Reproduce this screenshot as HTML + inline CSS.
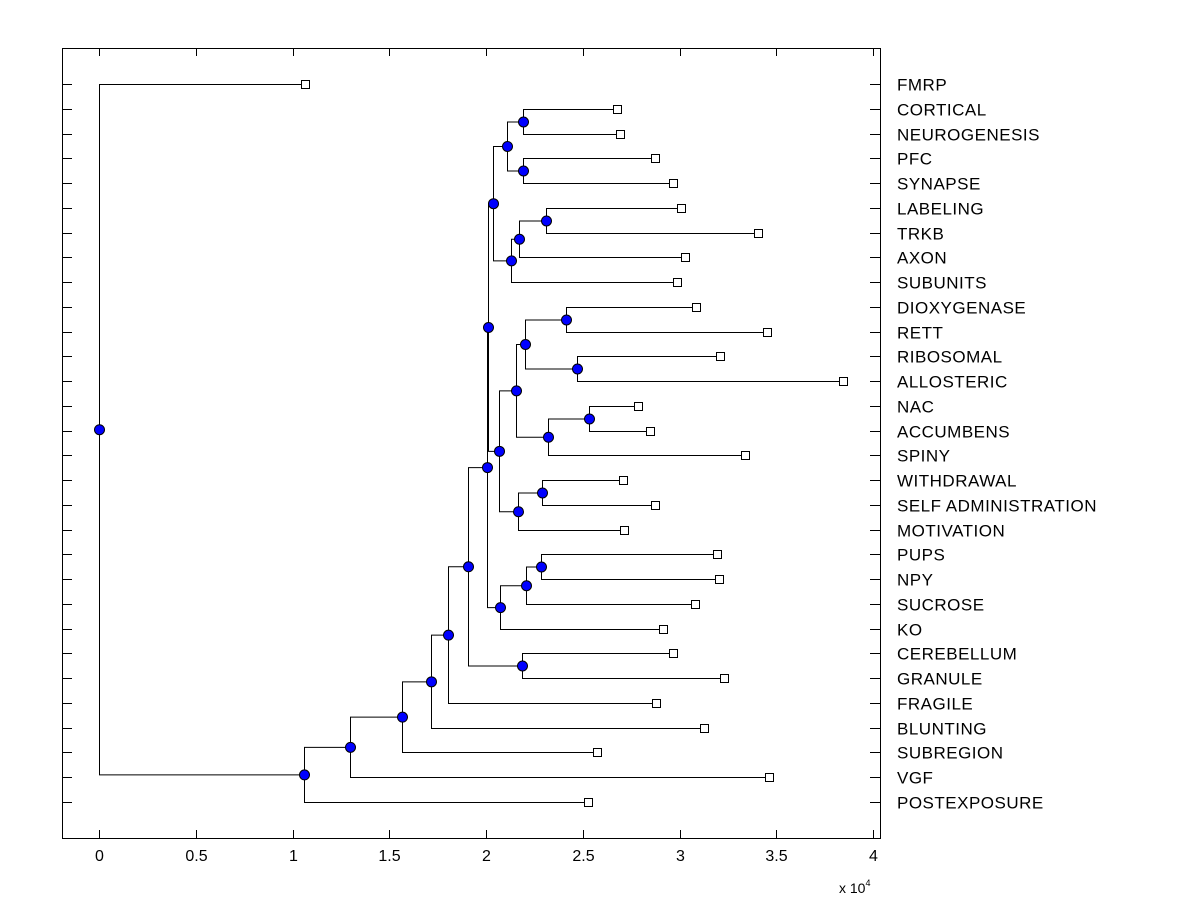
<!DOCTYPE html>
<html><head><meta charset="utf-8"><style>
body{margin:0;background:#fff;}
svg{display:block;font-family:"Liberation Sans",Arial,sans-serif;}
</style></head><body>
<svg id="chart" width="1200" height="900" viewBox="0 0 1200 900" xmlns="http://www.w3.org/2000/svg"></svg>
<script>
const leafLabels=["FMRP","CORTICAL","NEUROGENESIS","PFC","SYNAPSE","LABELING","TRKB","AXON","SUBUNITS","DIOXYGENASE","RETT","RIBOSOMAL","ALLOSTERIC","NAC","ACCUMBENS","SPINY","WITHDRAWAL","SELF ADMINISTRATION","MOTIVATION","PUPS","NPY","SUCROSE","KO","CEREBELLUM","GRANULE","FRAGILE","BLUNTING","SUBREGION","VGF","POSTEXPOSURE"];
const leafValues=[1.065,2.677,2.69,2.873,2.966,3.008,3.406,3.028,2.987,3.085,3.452,3.209,3.845,2.786,2.848,3.339,2.708,2.873,2.713,3.194,3.204,3.080,2.915,2.966,3.23,2.879,3.127,2.574,3.463,2.527];
const nodeNames=["A","B","C","D","E","F","G","H","I","J","K","L","M","N","O","P","Q","R","S","T","U","V","W","X","Y","Z","AA","BB","ROOT"];
const nodeValues=[2.191,2.191,2.109,2.310,2.171,2.129,2.036,2.413,2.470,2.202,2.532,2.320,2.155,2.289,2.165,2.067,2.010,2.284,2.207,2.072,2.005,2.186,1.907,1.804,1.716,1.566,1.297,1.059,0];
const nodeChildren=[[1,2],[3,4],["A","B"],[5,6],["D",7],["E",8],["C","F"],[9,10],[11,12],["H","I"],[13,14],["K",15],["J","L"],[16,17],["N",18],["M","O"],["G","P"],[19,20],["R",21],["S",22],["Q","T"],[23,24],["U","V"],["W",25],["X",26],["Y",27],["Z",28],["AA",29],[0,"BB"]];
const xTicks=[0,0.5,1,1.5,2,2.5,3,3.5,4];

const NS="http://www.w3.org/2000/svg";
const svg=document.getElementById('chart');
const L=62,R=880,T=48,B=838;
const xs=v=>99+v*193.5;
const ys=i=>84+i*(802-84)/29;
function mk(tag,attrs,parent){const e=document.createElementNS(NS,tag);for(const k in attrs)e.setAttribute(k,attrs[k]);(parent||svg).appendChild(e);return e;}

const box=mk('rect',{x:L+0.5,y:T+0.5,width:R-L,height:B-T,fill:'none',stroke:'#000','stroke-width':1});


xTicks.forEach(t=>{
  const x=Math.round(xs(t))+0.5;
  mk('line',{x1:x,y1:B,x2:x,y2:B-8,stroke:'#000'});
  mk('line',{x1:x,y1:T,x2:x,y2:T+8,stroke:'#000'});
  const tx=mk('text',{x:x,y:861,'font-size':16,'text-anchor':'middle',fill:'#000'});
  tx.textContent=String(t);
  
  
});
const ex=mk('text',{x:839,y:893,'font-size':14,fill:'#000'});
ex.innerHTML='x 10<tspan dy="-7" font-size="9">4</tspan>';



leafLabels.forEach((lab,i)=>{
  const y=Math.round(ys(i))+0.5;
  mk('line',{x1:L,y1:y,x2:L+10,y2:y,stroke:'#000'});
  mk('line',{x1:R,y1:y,x2:R-10,y2:y,stroke:'#000'});
  const t=mk('text',{x:897,y:y+6,'font-size':17,'letter-spacing':0.5,fill:'#000'});
  t.textContent=lab;
  
  
});

const pos={};
leafValues.forEach((v,i)=>{pos[i]={x:xs(v),y:Math.round(ys(i))+0.5};});
nodeNames.forEach((n,k)=>{
  const [a,b]=nodeChildren[k];
  pos[n]={x:xs(nodeValues[k]),y:(pos[a].y+pos[b].y)/2};
});
const gLines=mk('g',{stroke:'#000','stroke-width':1,fill:'none'});
nodeNames.forEach((n,k)=>{
  const p=pos[n];
  const x=Math.round(p.x)+0.5;
  nodeChildren[k].forEach(c=>{
    const q=pos[c];
    mk('polyline',{points:`${x},${p.y} ${x},${q.y} ${Math.round(q.x)+0.5},${q.y}`},gLines);
  });
});
leafValues.forEach((v,i)=>{
  const p=pos[i];
  const s=mk('rect',{x:Math.round(p.x)-3.5,y:p.y-4,width:8,height:8,fill:'#fff',stroke:'#000'});
  
  
});
nodeNames.forEach((n,k)=>{
  const p=pos[n];
  const c=mk('circle',{cx:Math.round(p.x)+0.5,cy:p.y,r:5,fill:'#0000ff',stroke:'#000','stroke-width':1});
  
  
});
</script>
</body></html>
